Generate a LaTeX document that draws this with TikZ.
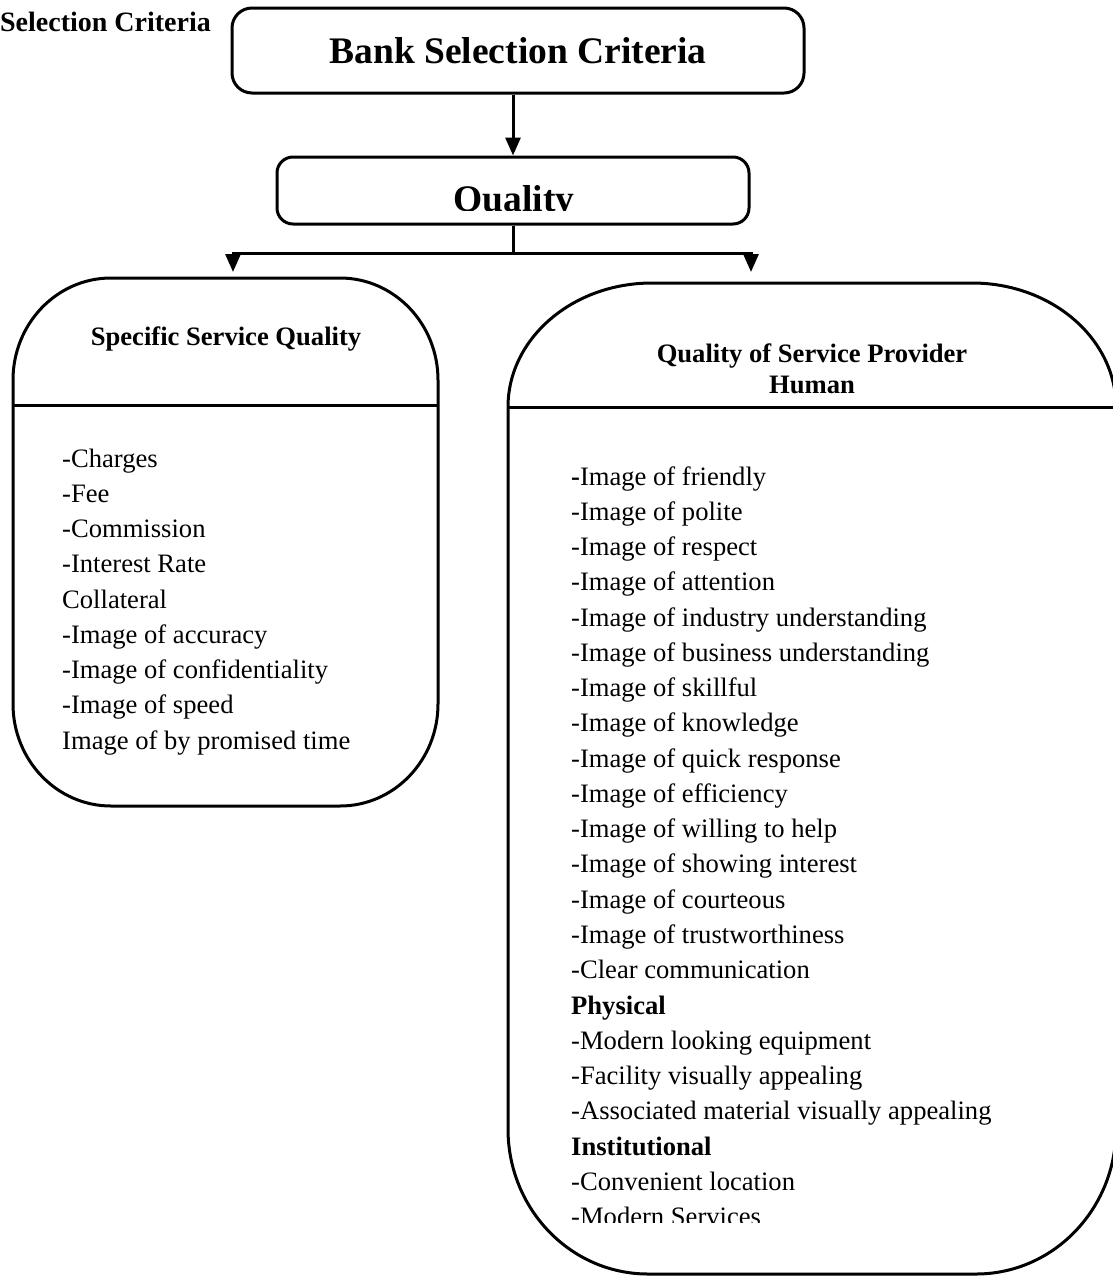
\documentclass[tikz,border=0pt]{standalone}
\usepackage{fontspec}
\setmainfont{Liberation Serif}
\usetikzlibrary{arrows.meta,calc}
\newcommand\bodyfnt{\fontsize{26.6}{32}\selectfont}
\newcommand\titlefnt{\fontsize{37.5}{45}\selectfont\bfseries}
\tikzset{
  boxline/.style={line width=3pt},
  item/.style={anchor=base west, inner sep=0pt, font=\bodyfnt},
  head/.style={anchor=base, inner sep=0pt, font=\bodyfnt\bfseries},
  arr/.style={line width=3pt, -{Triangle[length=18pt,width=15pt]}},
}
\begin{document}
\begin{tikzpicture}[x=1pt,y=1pt]
\fill[white] (0,0) rectangle (1112,-1277);
\useasboundingbox (0,0) rectangle (1112,-1277);

% top-left caption fragment
\node[anchor=base east, inner sep=0pt, font=\fontsize{28}{34}\selectfont\bfseries] (cap) at (211,-31) {Selection Criteria};

% top box
\node[boxline, draw, rounded corners=20pt, minimum width=572pt, minimum height=85pt, inner sep=0pt, font=\titlefnt] (A) at (518,-50.5) {Bank Selection Criteria};

% quality box
\node[boxline, draw, rounded corners=16pt, minimum width=472pt, minimum height=67pt, inner sep=0pt] (Q) at (513,-190.5) {};
\begin{scope}
  \clip (280,-150) rectangle (746,-210.2);
  \node[anchor=base, inner sep=0pt, font=\titlefnt] (Qt) at (514,-211) {Quality};
\end{scope}

% connectors
\draw[arr] (A.south -| Q.north) -- (Q.north);
\coordinate (lt) at (233,-272);
\coordinate (rt) at (751,-272);
\coordinate (br) at ($(Q.south)+(0,-28)$);
\draw[line width=3pt] (Q.south) -- (br);
\draw[arr] (br) -| (lt);
\draw[arr] (br) -| (rt);

% left box
\draw[boxline] (13,-380) arc[start angle=180, end angle=90, x radius=98, y radius=102]
  -- (340,-278) arc[start angle=90, end angle=0, x radius=98, y radius=102]
  -- (438,-704) arc[start angle=0, end angle=-90, x radius=98, y radius=102]
  -- (111,-806) arc[start angle=270, end angle=180, x radius=98, y radius=102]
  -- cycle;
\draw[boxline] (13,-405) -- (438,-405);
\node[head] (lh) at (226,-345) {Specific Service Quality};
\foreach \t [count=\i] in {-Charges, -Fee, -Commission, -Interest Rate, Collateral,
  -Image of accuracy, -Image of confidentiality, -Image of speed, Image of by promised time}
  \node[item] (l\i) at (62,{-467-35.25*(\i-1)}) {\t};

% right box
\draw[boxline] (508,-407) arc[start angle=180, end angle=90, x radius=144, y radius=124]
  -- (972,-283) arc[start angle=90, end angle=0, x radius=144, y radius=124]
  -- (1116,-1129) arc[start angle=0, end angle=-90, x radius=140, y radius=145]
  -- (648,-1274) arc[start angle=270, end angle=180, x radius=140, y radius=145]
  -- cycle;
\draw[boxline] (508,-407) -- (1116,-407);
\node[head] (rh1) at (812,-362) {Quality of Service Provider};
\node[head] (rh2) at (812,-393) {Human};
\foreach \t [count=\i] in {{\textbf{-}Image of friendly}, -Image of polite, -Image of respect,
  -Image of attention, -Image of industry understanding, -Image of business understanding,
  -Image of skillful, -Image of knowledge, -Image of quick response, -Image of efficiency,
  -Image of willing to help, -Image of showing interest, -Image of courteous,
  -Image of trustworthiness, -Clear communication, {\textbf{Physical}},
  -Modern looking equipment, -Facility visually appealing,
  -Associated material visually appealing, {\textbf{Institutional}}, -Convenient location}
  \node[item] (r\i) at (571,{-485-35.27*(\i-1)}) {\t};
\begin{scope}
  \clip (540,-1190) rectangle (1100,-1222.5);
  \node[item] (r22) at (571,{-485-35.27*21}) {-Modern Services};
\end{scope}
\end{tikzpicture}
\end{document}
